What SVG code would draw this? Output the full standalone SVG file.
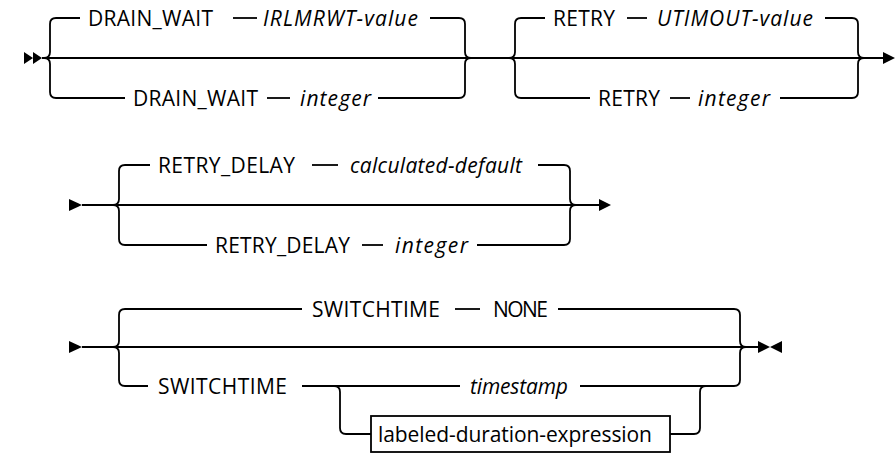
<svg xmlns="http://www.w3.org/2000/svg" width="895" height="453" viewBox="0 0 895 453">
<style>
.ln{fill:none;stroke:#000;stroke-width:1.8}
.ah{fill:#000;stroke:none}
text{font-family:"Open Sans","Liberation Sans",sans-serif;font-size:21px;font-weight:500;fill:#000}
.v{font-style:italic}
.box{fill:#fff;stroke:#000;stroke-width:1.8}
</style>
<rect width="895" height="453" fill="#fff"/>
<g id="connectors">
<!-- row 1 -->
<path class="ah" d="M24,52 L33,58 L24,64 Z M33,52 L42,58 L33,64 Z"/>
<path class="ln" d="M42,58 H885"/>
<path class="ah" d="M883,52 L895,58 L883,64 Z"/>
<path class="ln" d="M44,58 Q50,58 50,52 V24 Q50,18 56,18 H80"/>
<path class="ln" d="M44,58 Q50,58 50,64 V92 Q50,98 56,98 H125"/>
<path class="ln" d="M233,18 H257"/>
<path class="ln" d="M430,18 H459 Q465,18 465,24 V52 Q465,58 471,58"/>
<path class="ln" d="M267,98 H290"/>
<path class="ln" d="M378,98 H459 Q465,98 465,92 V64 Q465,58 471,58"/>
<path class="ln" d="M509,58 Q515,58 515,52 V24 Q515,18 521,18 H545"/>
<path class="ln" d="M509,58 Q515,58 515,64 V92 Q515,98 521,98 H590"/>
<path class="ln" d="M627,18 H647"/>
<path class="ln" d="M825,18 H852 Q858,18 858,24 V52 Q858,58 864,58"/>
<path class="ln" d="M670,98 H690"/>
<path class="ln" d="M780,98 H852 Q858,98 858,92 V64 Q858,58 864,58"/>
<!-- row 2 -->
<path class="ah" d="M69,199 L82,205 L69,211 Z"/>
<path class="ln" d="M82,205 H601"/>
<path class="ah" d="M599,199 L611,205 L599,211 Z"/>
<path class="ln" d="M113,205 Q119,205 119,199 V171 Q119,165 125,165 H150"/>
<path class="ln" d="M113,205 Q119,205 119,211 V239 Q119,245 125,245 H207"/>
<path class="ln" d="M312,165 H338"/>
<path class="ln" d="M538,165 H564 Q570,165 570,171 V199 Q570,205 576,205"/>
<path class="ln" d="M362,245 H383"/>
<path class="ln" d="M477,245 H564 Q570,245 570,239 V211 Q570,205 576,205"/>
<!-- row 3 -->
<path class="ah" d="M69,341 L82,347 L69,353 Z"/>
<path class="ln" d="M82,347 H760"/>
<path class="ah" d="M758,341 L770,347 L758,353 Z M782,341 L770,347 L782,353 Z"/>
<path class="ln" d="M113,347 Q119,347 119,341 V315 Q119,309 125,309 H302"/>
<path class="ln" d="M455,309 H480"/>
<path class="ln" d="M558,309 H734 Q740,309 740,315 V341 Q740,347 746,347"/>
<path class="ln" d="M113,347 Q119,347 119,353 V380 Q119,386 125,386 H148"/>
<path class="ln" d="M302,386 H460"/>
<path class="ln" d="M580,386 H734 Q740,386 740,380 V353 Q740,347 746,347"/>
<path class="ln" d="M334,386 Q340,386 340,392 V428 Q340,434 346,434 H371"/>
<path class="ln" d="M670,434 H694 Q700,434 700,428 V392 Q700,386 706,386"/>
</g>
<g id="n-drain-wait-default"><text x="88" y="26" textLength="125">DRAIN_WAIT</text><text class="v" x="263" y="26" textLength="155">IRLMRWT-value</text></g>
<g id="n-drain-wait-int"><text x="133" y="106" textLength="125">DRAIN_WAIT</text><text class="v" x="300" y="106" textLength="71">integer</text></g>
<g id="n-retry-default"><text x="553" y="26" textLength="62">RETRY</text><text class="v" x="657" y="26" textLength="156">UTIMOUT-value</text></g>
<g id="n-retry-int"><text x="598" y="106" textLength="62">RETRY</text><text class="v" x="698" y="106" textLength="72">integer</text></g>
<g id="n-retry-delay-default"><text x="158" y="173" textLength="137">RETRY_DELAY</text><text class="v" x="350" y="173" textLength="172">calculated-default</text></g>
<g id="n-retry-delay-int"><text x="215" y="253" textLength="135">RETRY_DELAY</text><text class="v" x="395" y="253" textLength="73">integer</text></g>
<g id="n-switchtime-none"><text x="312" y="317" textLength="128">SWITCHTIME</text><text x="493" y="317" textLength="55">NONE</text></g>
<g id="n-switchtime"><text x="158" y="394" textLength="129">SWITCHTIME</text></g>
<g id="n-timestamp"><text class="v" x="470" y="394" textLength="98">timestamp</text></g>
<g id="n-labeled-duration"><rect class="box" x="371" y="416" width="299" height="36"/><text x="378" y="442" textLength="274">labeled-duration-expression</text></g>
</svg>
